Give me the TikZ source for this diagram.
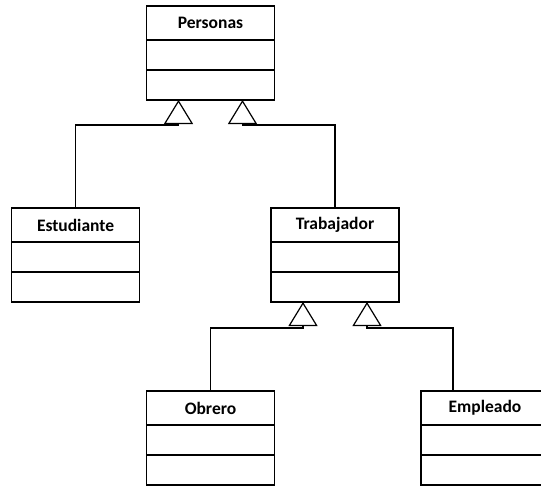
\documentclass[tikz,border=0pt]{standalone}
\usepackage{fontspec}
\setsansfont{Carlito}
\usetikzlibrary{positioning,arrows.meta}

\begin{document}
\begin{tikzpicture}[x=1pt, y=-1pt, line width=1.2pt,
        cabecera/.style={draw, rectangle, anchor=north, minimum width=128pt, minimum height=34pt,
            inner sep=0pt, outer sep=0pt, font=\sffamily\bfseries\fontsize{17.5}{17.5}\selectfont},
        compart/.style={draw, rectangle, minimum width=128pt, minimum height=30pt, inner sep=0pt, outer sep=0pt},
        hereda/.style={-{Triangle[open, length=24pt, width=29pt, line width=1.2pt]}}]
        \clip (0,0) rectangle (541,487);
        % clases
        \node[cabecera] (per) at (210.5, 6) {Personas};
        \node[compart, below=0pt of per] (per1) {};
        \node[compart, below=0pt of per1] (per2) {};
        \node[cabecera] (est) at (75.5, 208) {Estudiante};
        \node[compart, below=0pt of est] (est1) {};
        \node[compart, below=0pt of est1] (est2) {};
        \node[cabecera] (tra) at (335, 208) {Trabajador};
        \node[compart, below=0pt of tra] (tra1) {};
        \node[compart, below=0pt of tra1] (tra2) {};
        \node[cabecera] (obr) at (210.5, 391) {Obrero};
        \node[compart, below=0pt of obr] (obr1) {};
        \node[compart, below=0pt of obr1] (obr2) {};
        \node[cabecera] (emp) at (485, 391) {Empleado};
        \node[compart, below=0pt of emp] (emp1) {};
        \node[compart, below=0pt of emp1] (emp2) {};
        % herencia
        \coordinate (p1) at ([xshift=-32pt]per2.south);
        \coordinate (p2) at ([xshift=32pt]per2.south);
        \coordinate (t1) at ([xshift=-32pt]tra2.south);
        \coordinate (t2) at ([xshift=32pt]tra2.south);
        \coordinate (e) at ([xshift=-32pt]emp.north);
        \draw[hereda] (est.north) |- ([yshift=-25pt]p1) -- (p1);
        \draw[hereda] (tra.north) |- ([yshift=-25pt]p2) -- (p2);
        \draw[hereda] (obr.north) |- ([yshift=-26pt]t1) -- (t1);
        \draw[hereda] (e) |- ([yshift=-26pt]t2) -- (t2);
\end{tikzpicture}
\end{document}
